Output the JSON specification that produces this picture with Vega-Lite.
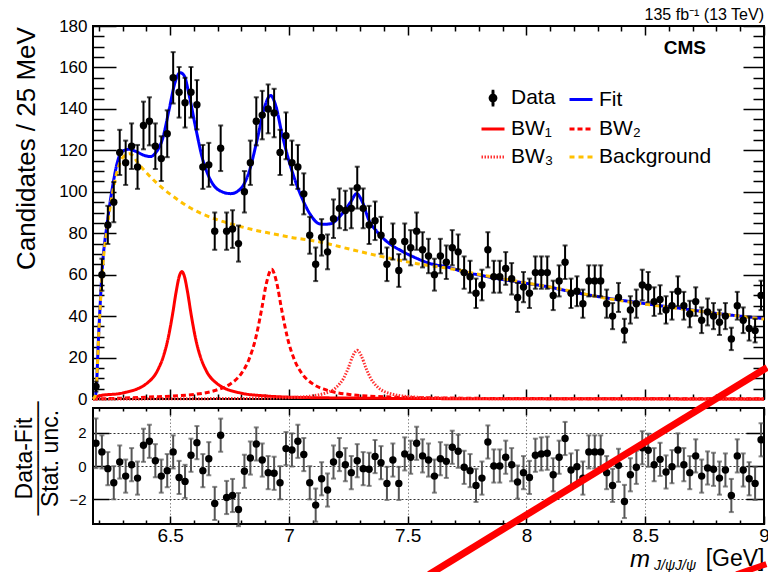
{
"$schema": "https://vega.github.io/schema/vega-lite/v6.json",
"padding": {"left": 11, "top": 6, "right": 0, "bottom": 0},
"background": "white",
"spacing": 9,
"bounds": "flush",
"config": {
  "font": "Liberation Sans",
  "view": {"stroke": "black", "strokeWidth": 2},
  "axis": {"domain": false, "grid": false, "tickColor": "black", "tickWidth": 1.5, "labelColor": "black", "titleColor": "black", "labelFont": "Liberation Sans", "titleFont": "Liberation Sans", "titleFontWeight": "normal", "labelOverlap": false, "labelFlush": false},
  "title": {"font": "Liberation Sans", "color": "black"},
  "legend": {"labelFont": "Liberation Sans", "labelColor": "black"}
},
"datasets": {
  "bins": [
{"m":6.1875,"n":6,"e":2.4,"p":1.37,"pe":1.5},
{"m":6.2125,"n":60,"e":7.7,"p":0.85,"pe":1},
{"m":6.2375,"n":84,"e":9.2,"p":-0.16,"pe":1},
{"m":6.2625,"n":95,"e":9.7,"p":-1.01,"pe":1},
{"m":6.2875,"n":119,"e":10.9,"p":0.24,"pe":1},
{"m":6.3125,"n":114,"e":10.7,"p":-0.61,"pe":1},
{"m":6.3375,"n":122,"e":11.0,"p":0.08,"pe":1},
{"m":6.3625,"n":112,"e":10.6,"p":-0.73,"pe":1},
{"m":6.3875,"n":132,"e":11.5,"p":1.25,"pe":1},
{"m":6.4125,"n":134,"e":11.6,"p":1.49,"pe":1},
{"m":6.4375,"n":122,"e":11.0,"p":0.32,"pe":1},
{"m":6.4625,"n":116,"e":10.8,"p":-0.61,"pe":1},
{"m":6.4875,"n":128,"e":11.3,"p":-0.28,"pe":1},
{"m":6.5125,"n":155,"e":12.4,"p":0.85,"pe":1},
{"m":6.5375,"n":148,"e":12.2,"p":-0.69,"pe":1},
{"m":6.5625,"n":143,"e":12.0,"p":-0.93,"pe":1},
{"m":6.5875,"n":148,"e":12.2,"p":0.65,"pe":1},
{"m":6.6125,"n":142,"e":11.9,"p":1.41,"pe":1},
{"m":6.6375,"n":112,"e":10.6,"p":-0.28,"pe":1},
{"m":6.6625,"n":113,"e":10.6,"p":0.44,"pe":1},
{"m":6.6875,"n":81,"e":9.0,"p":-2.26,"pe":1},
{"m":6.7125,"n":121,"e":11.0,"p":1.86,"pe":1},
{"m":6.7375,"n":81,"e":9.0,"p":-1.90,"pe":1},
{"m":6.7625,"n":82,"e":9.1,"p":-1.78,"pe":1},
{"m":6.7875,"n":75,"e":8.7,"p":-2.63,"pe":1},
{"m":6.8125,"n":100,"e":10.0,"p":-0.32,"pe":1},
{"m":6.8375,"n":114,"e":10.7,"p":0.48,"pe":1},
{"m":6.8625,"n":134,"e":11.6,"p":1.33,"pe":1},
{"m":6.8875,"n":137,"e":11.7,"p":0.36,"pe":1},
{"m":6.9125,"n":140,"e":11.8,"p":-0.40,"pe":1},
{"m":6.9375,"n":138,"e":11.7,"p":-0.44,"pe":1},
{"m":6.9625,"n":119,"e":10.9,"p":-1.01,"pe":1},
{"m":6.9875,"n":127,"e":11.3,"p":1.05,"pe":1},
{"m":7.0125,"n":114,"e":10.7,"p":0.97,"pe":1},
{"m":7.0375,"n":112,"e":10.6,"p":1.49,"pe":1},
{"m":7.0625,"n":99,"e":9.9,"p":0.69,"pe":1},
{"m":7.0875,"n":79,"e":8.9,"p":-1.01,"pe":1},
{"m":7.1125,"n":65,"e":8.1,"p":-2.36,"pe":1},
{"m":7.1375,"n":78,"e":8.8,"p":-0.77,"pe":1},
{"m":7.1625,"n":71,"e":8.4,"p":-1.45,"pe":1},
{"m":7.1875,"n":87,"e":9.3,"p":0.24,"pe":1},
{"m":7.2125,"n":92,"e":9.6,"p":0.69,"pe":1},
{"m":7.2375,"n":91,"e":9.5,"p":0.08,"pe":1},
{"m":7.2625,"n":92,"e":9.6,"p":-0.40,"pe":1},
{"m":7.2875,"n":102,"e":10.1,"p":0.32,"pe":1},
{"m":7.3125,"n":92,"e":9.6,"p":-0.16,"pe":1},
{"m":7.3375,"n":84,"e":9.2,"p":-0.20,"pe":1},
{"m":7.3625,"n":86,"e":9.3,"p":0.57,"pe":1},
{"m":7.3875,"n":79,"e":8.9,"p":0.20,"pe":1},
{"m":7.4125,"n":65,"e":8.1,"p":-1.05,"pe":1},
{"m":7.4375,"n":76,"e":8.7,"p":0.36,"pe":1},
{"m":7.4625,"n":62,"e":7.9,"p":-1.05,"pe":1},
{"m":7.4875,"n":76,"e":8.7,"p":0.73,"pe":1},
{"m":7.5125,"n":73,"e":8.5,"p":0.53,"pe":1},
{"m":7.5375,"n":81,"e":9.0,"p":1.37,"pe":1},
{"m":7.5625,"n":72,"e":8.5,"p":0.61,"pe":1},
{"m":7.5875,"n":69,"e":8.3,"p":0.36,"pe":1},
{"m":7.6125,"n":60,"e":7.7,"p":-0.61,"pe":1},
{"m":7.6375,"n":69,"e":8.3,"p":0.44,"pe":1},
{"m":7.6625,"n":66,"e":8.1,"p":0.28,"pe":1},
{"m":7.6875,"n":73,"e":8.5,"p":1.13,"pe":1},
{"m":7.7125,"n":71,"e":8.4,"p":0.89,"pe":1},
{"m":7.7375,"n":61,"e":7.8,"p":-0.08,"pe":1},
{"m":7.7625,"n":59,"e":7.7,"p":-0.28,"pe":1},
{"m":7.7875,"n":51,"e":7.1,"p":-1.17,"pe":1},
{"m":7.8125,"n":55,"e":7.4,"p":-0.73,"pe":1},
{"m":7.8375,"n":72,"e":8.5,"p":1.45,"pe":1},
{"m":7.8625,"n":59,"e":7.7,"p":0.0,"pe":1},
{"m":7.8875,"n":59,"e":7.7,"p":0.0,"pe":1},
{"m":7.9125,"n":63,"e":7.9,"p":0.53,"pe":1},
{"m":7.9375,"n":58,"e":7.6,"p":0.08,"pe":1},
{"m":7.9625,"n":49,"e":7.0,"p":-0.97,"pe":1},
{"m":7.9875,"n":54,"e":7.3,"p":-0.40,"pe":1},
{"m":8.0125,"n":51,"e":7.1,"p":-0.69,"pe":1},
{"m":8.0375,"n":61,"e":7.8,"p":0.65,"pe":1},
{"m":8.0625,"n":61,"e":7.8,"p":0.73,"pe":1},
{"m":8.0875,"n":61,"e":7.8,"p":0.77,"pe":1},
{"m":8.1125,"n":50,"e":7.1,"p":-0.53,"pe":1},
{"m":8.1375,"n":57,"e":7.5,"p":0.53,"pe":1},
{"m":8.1625,"n":66,"e":8.1,"p":1.66,"pe":1},
{"m":8.1875,"n":51,"e":7.1,"p":-0.24,"pe":1},
{"m":8.2125,"n":52,"e":7.2,"p":-0.04,"pe":1},
{"m":8.2375,"n":46,"e":6.8,"p":-0.73,"pe":1},
{"m":8.2625,"n":57,"e":7.5,"p":0.85,"pe":1},
{"m":8.2875,"n":57,"e":7.5,"p":0.85,"pe":1},
{"m":8.3125,"n":57,"e":7.5,"p":0.85,"pe":1},
{"m":8.3375,"n":46,"e":6.8,"p":-0.40,"pe":1},
{"m":8.3625,"n":40,"e":6.3,"p":-1.17,"pe":1},
{"m":8.3875,"n":49,"e":7.0,"p":0.04,"pe":1},
{"m":8.4125,"n":33,"e":5.7,"p":-2.14,"pe":1},
{"m":8.4375,"n":43,"e":6.6,"p":-0.53,"pe":1},
{"m":8.4625,"n":46,"e":6.8,"p":-0.08,"pe":1},
{"m":8.4875,"n":55,"e":7.4,"p":1.1,"pe":1},
{"m":8.5125,"n":54,"e":7.3,"p":0.95,"pe":1},
{"m":8.5375,"n":47,"e":6.9,"p":0.08,"pe":1},
{"m":8.5625,"n":48,"e":6.9,"p":0.40,"pe":1},
{"m":8.5875,"n":43,"e":6.6,"p":-0.36,"pe":1},
{"m":8.6125,"n":45,"e":6.7,"p":-0.04,"pe":1},
{"m":8.6375,"n":52,"e":7.2,"p":0.97,"pe":1},
{"m":8.6625,"n":45,"e":6.7,"p":0.08,"pe":1},
{"m":8.6875,"n":41,"e":6.4,"p":-0.40,"pe":1},
{"m":8.7125,"n":47,"e":6.9,"p":0.61,"pe":1},
{"m":8.7375,"n":38,"e":6.2,"p":-0.61,"pe":1},
{"m":8.7625,"n":42,"e":6.5,"p":-0.12,"pe":1},
{"m":8.7875,"n":40,"e":6.3,"p":-0.20,"pe":1},
{"m":8.8125,"n":37,"e":6.1,"p":-0.73,"pe":1},
{"m":8.8375,"n":40,"e":6.3,"p":-0.24,"pe":1},
{"m":8.8625,"n":29,"e":5.4,"p":-1.78,"pe":1},
{"m":8.8875,"n":45,"e":6.7,"p":0.61,"pe":1},
{"m":8.9125,"n":38,"e":6.2,"p":-0.24,"pe":1},
{"m":8.9375,"n":34,"e":5.8,"p":-0.77,"pe":1},
{"m":8.9625,"n":33,"e":5.7,"p":-1.05,"pe":1},
{"m":8.9875,"n":50,"e":7.1,"p":1.58,"pe":1}
  ],
  "curves": [
{"m":6.175,"v":0,"s":"Fit"},{"m":6.186,"v":2,"s":"Fit"},{"m":6.2,"v":34,"s":"Fit"},{"m":6.214,"v":63,"s":"Fit"},{"m":6.235,"v":85,"s":"Fit"},{"m":6.256,"v":101.5,"s":"Fit"},{"m":6.277,"v":114,"s":"Fit"},{"m":6.298,"v":119.5,"s":"Fit"},{"m":6.327,"v":120.5,"s":"Fit"},{"m":6.355,"v":119.5,"s":"Fit"},{"m":6.39,"v":117.6,"s":"Fit"},{"m":6.418,"v":117,"s":"Fit"},{"m":6.44,"v":119,"s":"Fit"},{"m":6.468,"v":125.6,"s":"Fit"},{"m":6.496,"v":140,"s":"Fit"},{"m":6.521,"v":153,"s":"Fit"},{"m":6.541,"v":157.5,"s":"Fit"},{"m":6.559,"v":156,"s":"Fit"},{"m":6.58,"v":146.5,"s":"Fit"},{"m":6.608,"v":130.5,"s":"Fit"},{"m":6.636,"v":116,"s":"Fit"},{"m":6.664,"v":107,"s":"Fit"},{"m":6.706,"v":100.7,"s":"Fit"},{"m":6.755,"v":99.1,"s":"Fit"},{"m":6.797,"v":101.5,"s":"Fit"},{"m":6.832,"v":109.6,"s":"Fit"},{"m":6.867,"v":125.6,"s":"Fit"},{"m":6.895,"v":140,"s":"Fit"},{"m":6.923,"v":146.5,"s":"Fit"},{"m":6.944,"v":141.7,"s":"Fit"},{"m":6.972,"v":127.2,"s":"Fit"},{"m":7.014,"v":109.6,"s":"Fit"},{"m":7.056,"v":96.7,"s":"Fit"},{"m":7.092,"v":88.7,"s":"Fit"},{"m":7.127,"v":84.6,"s":"Fit"},{"m":7.15,"v":84.3,"s":"Fit"},{"m":7.176,"v":84.6,"s":"Fit"},{"m":7.218,"v":88.6,"s":"Fit"},{"m":7.26,"v":95.1,"s":"Fit"},{"m":7.285,"v":99.1,"s":"Fit"},{"m":7.309,"v":95.1,"s":"Fit"},{"m":7.337,"v":86.2,"s":"Fit"},{"m":7.372,"v":80.6,"s":"Fit"},{"m":7.414,"v":75.8,"s":"Fit"},{"m":7.47,"v":71.7,"s":"Fit"},{"m":7.526,"v":68.5,"s":"Fit"},{"m":7.596,"v":65.3,"s":"Fit"},{"m":7.667,"v":63.7,"s":"Fit"},{"m":7.737,"v":61.3,"s":"Fit"},{"m":7.807,"v":59.7,"s":"Fit"},{"m":7.877,"v":58.1,"s":"Fit"},{"m":7.947,"v":56.8,"s":"Fit"},{"m":8.017,"v":55.5,"s":"Fit"},{"m":8.073,"v":54.5,"s":"Fit"},{"m":8.2,"v":51.5,"s":"Fit"},{"m":8.356,"v":48.4,"s":"Fit"},{"m":8.5,"v":46,"s":"Fit"},{"m":8.637,"v":43.9,"s":"Fit"},{"m":8.8,"v":41.3,"s":"Fit"},{"m":9.0,"v":38.8,"s":"Fit"},
{"m":6.175,"v":0,"s":"BW₁"},{"m":6.2,"v":1.5,"s":"BW₁"},{"m":6.3,"v":2.9,"s":"BW₁"},{"m":6.4,"v":7.4,"s":"BW₁"},{"m":6.45,"v":14.5,"s":"BW₁"},{"m":6.47,"v":20.1,"s":"BW₁"},{"m":6.49,"v":28.6,"s":"BW₁"},{"m":6.51,"v":40.9,"s":"BW₁"},{"m":6.525,"v":51.7,"s":"BW₁"},{"m":6.539,"v":59.5,"s":"BW₁"},{"m":6.549,"v":61.5,"s":"BW₁"},{"m":6.559,"v":59.5,"s":"BW₁"},{"m":6.573,"v":51.7,"s":"BW₁"},{"m":6.588,"v":40.9,"s":"BW₁"},{"m":6.608,"v":28.6,"s":"BW₁"},{"m":6.628,"v":20.1,"s":"BW₁"},{"m":6.648,"v":14.5,"s":"BW₁"},{"m":6.7,"v":7.2,"s":"BW₁"},{"m":6.8,"v":2.8,"s":"BW₁"},{"m":6.9,"v":1.5,"s":"BW₁"},{"m":7.0,"v":0.9,"s":"BW₁"},{"m":7.3,"v":0.4,"s":"BW₁"},{"m":7.6,"v":0.2,"s":"BW₁"},{"m":8.0,"v":0.1,"s":"BW₁"},{"m":9.0,"v":0.05,"s":"BW₁"},
{"m":6.175,"v":0,"s":"BW₂"},{"m":6.4,"v":0.88,"s":"BW₂"},{"m":6.6,"v":2.2,"s":"BW₂"},{"m":6.7,"v":4.5,"s":"BW₂"},{"m":6.75,"v":7.0,"s":"BW₂"},{"m":6.8,"v":12.4,"s":"BW₂"},{"m":6.83,"v":18.6,"s":"BW₂"},{"m":6.86,"v":29.4,"s":"BW₂"},{"m":6.885,"v":43.3,"s":"BW₂"},{"m":6.905,"v":55.8,"s":"BW₂"},{"m":6.927,"v":62.6,"s":"BW₂"},{"m":6.949,"v":55.8,"s":"BW₂"},{"m":6.969,"v":43.3,"s":"BW₂"},{"m":6.994,"v":29.4,"s":"BW₂"},{"m":7.024,"v":18.6,"s":"BW₂"},{"m":7.054,"v":12.4,"s":"BW₂"},{"m":7.104,"v":7.0,"s":"BW₂"},{"m":7.154,"v":4.5,"s":"BW₂"},{"m":7.254,"v":2.2,"s":"BW₂"},{"m":7.454,"v":0.88,"s":"BW₂"},{"m":7.7,"v":0.41,"s":"BW₂"},{"m":8.0,"v":0.21,"s":"BW₂"},{"m":8.5,"v":0.1,"s":"BW₂"},{"m":9.0,"v":0.06,"s":"BW₂"},
{"m":6.175,"v":0,"s":"BW₃"},{"m":6.9,"v":0.37,"s":"BW₃"},{"m":7.05,"v":0.96,"s":"BW₃"},{"m":7.15,"v":2.7,"s":"BW₃"},{"m":7.2,"v":5.7,"s":"BW₃"},{"m":7.23,"v":10,"s":"BW₃"},{"m":7.25,"v":15,"s":"BW₃"},{"m":7.27,"v":21,"s":"BW₃"},{"m":7.287,"v":23.5,"s":"BW₃"},{"m":7.304,"v":21,"s":"BW₃"},{"m":7.324,"v":15,"s":"BW₃"},{"m":7.344,"v":10,"s":"BW₃"},{"m":7.374,"v":5.7,"s":"BW₃"},{"m":7.424,"v":2.7,"s":"BW₃"},{"m":7.524,"v":0.96,"s":"BW₃"},{"m":7.674,"v":0.37,"s":"BW₃"},{"m":8.0,"v":0.11,"s":"BW₃"},{"m":9.0,"v":0.02,"s":"BW₃"},
{"m":6.175,"v":0,"s":"Background"},{"m":6.186,"v":2,"s":"Background"},{"m":6.2,"v":33,"s":"Background"},{"m":6.214,"v":61,"s":"Background"},{"m":6.235,"v":83,"s":"Background"},{"m":6.256,"v":98.5,"s":"Background"},{"m":6.277,"v":110,"s":"Background"},{"m":6.3,"v":116.5,"s":"Background"},{"m":6.33,"v":118.4,"s":"Background"},{"m":6.37,"v":113,"s":"Background"},{"m":6.41,"v":108,"s":"Background"},{"m":6.45,"v":103.5,"s":"Background"},{"m":6.51,"v":98,"s":"Background"},{"m":6.58,"v":92.5,"s":"Background"},{"m":6.65,"v":88.6,"s":"Background"},{"m":6.72,"v":85.7,"s":"Background"},{"m":6.79,"v":83.4,"s":"Background"},{"m":6.86,"v":81.4,"s":"Background"},{"m":6.93,"v":79.8,"s":"Background"},{"m":7.0,"v":78.2,"s":"Background"},{"m":7.13,"v":75.8,"s":"Background"},{"m":7.26,"v":72.2,"s":"Background"},{"m":7.4,"v":68.5,"s":"Background"},{"m":7.54,"v":65.3,"s":"Background"},{"m":7.68,"v":62.9,"s":"Background"},{"m":7.82,"v":59.7,"s":"Background"},{"m":7.96,"v":56.8,"s":"Background"},{"m":8.1,"v":54,"s":"Background"},{"m":8.356,"v":48.2,"s":"Background"},{"m":8.637,"v":43.7,"s":"Background"},{"m":9.0,"v":38.6,"s":"Background"}
  ]
},
"vconcat": [
  {
    "width": 671, "height": 373,
    "title": {"text": "135 fb⁻¹ (13 TeV)", "anchor": "end", "frame": "group", "fontSize": 16, "fontWeight": "normal", "offset": -6},
    "resolve": {"axis": {"x": "independent", "y": "independent"}},
    "layer": [
      {
        "data": {"name": "curves"},
        "mark": {"type": "line", "strokeWidth": 3, "interpolate": "monotone"},
        "encoding": {
          "x": {"field": "m", "type": "quantitative", "scale": {"domain": [6.175, 9.0], "nice": false, "zero": false},
                "axis": {"orient": "bottom", "values": [6.2,6.3,6.4,6.5,6.6,6.7,6.8,6.9,7,7.1,7.2,7.3,7.4,7.5,7.6,7.7,7.8,7.9,8,8.1,8.2,8.3,8.4,8.5,8.6,8.7,8.8,8.9,9],
                         "tickSize": {"condition": {"test": "abs(datum.value*2-round(datum.value*2))<0.01", "value": -10}, "value": -5},
                         "labels": false, "title": null}},
          "y": {"field": "v", "type": "quantitative", "scale": {"domain": [0, 180], "nice": false},
                "axis": {"orient": "left", "values": [0,5,10,15,20,25,30,35,40,45,50,55,60,65,70,75,80,85,90,95,100,105,110,115,120,125,130,135,140,145,150,155,160,165,170,175,180],
                         "tickSize": {"condition": {"test": "datum.value % 20 === 0", "value": -23}, "value": -11},
                         "labelExpr": "datum.value % 20 === 0 ? datum.label : ''",
                         "labelFontSize": 17, "labelPadding": 29,
                         "title": "Candidates / 25 MeV", "titleFontSize": 26, "titleX": -67, "titleY": 122, "titleBaseline": "middle", "titleAlign": "center", "titleAngle": -90}},
          "color": {"field": "s", "type": "nominal",
                    "scale": {"domain": ["Data","BW₁","BW₃","Fit","BW₂","Background"], "range": ["black","#ff0000","#ff3030","#0000ff","#ff0000","#ffc000"]},
                    "legend": {"title": null, "orient": "none", "legendX": 387, "legendY": 59, "columns": 2, "labelFontSize": 21, "symbolSize": 529, "symbolType": "stroke", "symbolStrokeWidth": 3, "rowPadding": 5, "columnPadding": 7, "labelOffset": 5,
                               "encode": {"symbols": {"update": {"shape": {"signal": "datum.value === 'Data' ? 'M-0.25,0A0.25,0.25,0,1,0,0.25,0A0.25,0.25,0,1,0,-0.25,0Z M0,-0.6L0,0.6 M-0.12,-0.6L0.12,-0.6 M-0.12,0.6L0.12,0.6' : 'stroke'"}, "fill": {"signal": "datum.value === 'Data' ? 'black' : 'transparent'"}}}}}},
          "strokeDash": {"field": "s", "type": "nominal",
                    "scale": {"domain": ["Data","BW₁","BW₃","Fit","BW₂","Background"], "range": [[1,0],[1,0],[1.5,1.5],[1,0],[5,3],[5,4]]},
                    "legend": {"title": null, "orient": "none", "legendX": 387, "legendY": 59, "columns": 2, "labelFontSize": 21, "symbolSize": 529, "symbolType": "stroke", "symbolStrokeWidth": 3, "rowPadding": 5, "columnPadding": 7, "labelOffset": 5}}
        }
      },
      {
        "data": {"name": "bins"},
        "mark": {"type": "errorbar", "ticks": {"size": 5}, "thickness": 2, "color": "black"},
        "encoding": {
          "x": {"field": "m", "type": "quantitative", "axis": null},
          "y": {"field": "n", "type": "quantitative", "axis": null},
          "yError": {"field": "e"}
        }
      },
      {
        "data": {"name": "bins"},
        "mark": {"type": "point", "filled": true, "size": 55, "opacity": 1},
        "encoding": {
          "x": {"field": "m", "type": "quantitative",
                "axis": {"orient": "top", "values": [6.2,6.3,6.4,6.5,6.6,6.7,6.8,6.9,7,7.1,7.2,7.3,7.4,7.5,7.6,7.7,7.8,7.9,8,8.1,8.2,8.3,8.4,8.5,8.6,8.7,8.8,8.9,9],
                         "tickSize": {"condition": {"test": "abs(datum.value*2-round(datum.value*2))<0.01", "value": -9}, "value": -5},
                         "labels": false, "title": null}},
          "y": {"field": "n", "type": "quantitative",
                "axis": {"orient": "right", "values": [0,5,10,15,20,25,30,35,40,45,50,55,60,65,70,75,80,85,90,95,100,105,110,115,120,125,130,135,140,145,150,155,160,165,170,175,180],
                         "tickSize": {"condition": {"test": "datum.value % 20 === 0", "value": -21}, "value": -11},
                         "labels": false, "title": null}},
          "color": {"datum": "Data"}
        }
      },
      {
        "data": {"values": [{}]},
        "mark": {"type": "text", "text": "CMS", "font": "Liberation Sans", "fontSize": 19, "fontWeight": "bold", "align": "right", "baseline": "middle", "color": "black"},
        "encoding": {
          "x": {"datum": 8.756, "type": "quantitative", "axis": null},
          "y": {"datum": 169.4, "type": "quantitative", "axis": null}
        }
      }
    ]
  },
  {
    "width": 671, "height": 116,
    "resolve": {"axis": {"x": "independent", "y": "independent"}},
    "layer": [
      {
        "data": {"name": "bins"},
        "mark": {"type": "errorbar", "ticks": {"size": 5}, "thickness": 2, "color": "#555555"},
        "encoding": {
          "x": {"field": "m", "type": "quantitative", "scale": {"domain": [6.175, 9.0], "nice": false, "zero": false}, "axis": null},
          "y": {"field": "p", "type": "quantitative", "scale": {"domain": [-3.5, 3.5], "nice": false}, "axis": null},
          "yError": {"field": "pe"}
        }
      },
      {
        "data": {"name": "bins"},
        "mark": {"type": "point", "filled": true, "size": 55, "opacity": 1, "color": "black"},
        "encoding": {
          "x": {"field": "m", "type": "quantitative",
                "axis": {"orient": "bottom", "values": [6.2,6.3,6.4,6.5,6.6,6.7,6.8,6.9,7,7.1,7.2,7.3,7.4,7.5,7.6,7.7,7.8,7.9,8,8.1,8.2,8.3,8.4,8.5,8.6,8.7,8.8,8.9,9],
                         "tickSize": {"condition": {"test": "abs(datum.value*2-round(datum.value*2))<0.01", "value": -8}, "value": -4},
                         "labelExpr": "abs(datum.value*2-round(datum.value*2))<0.01 ? format(datum.value, '~g') : ''",
                         "labelFontSize": 19, "labelPadding": 10,
                         "grid": true, "gridColor": "#888888", "gridDash": [1.5, 2], "gridWidth": 1,
                         "gridOpacity": {"condition": {"test": "abs(datum.value*2-round(datum.value*2))<0.01 && datum.value < 8.99", "value": 1}, "value": 0},
                         "title": "[GeV]", "titleFontSize": 23, "titleAnchor": "end", "titlePadding": -2}},
          "y": {"field": "p", "type": "quantitative",
                "axis": {"orient": "left", "values": [-2, 0, 2], "tickSize": -16, "labelFontSize": 15, "labelPadding": 23,
                         "grid": true, "gridColor": "#333333", "gridDash": [2, 2], "gridWidth": 1,
                         "title": ["Data-Fit", "───────", "Stat. unc."], "titleFontSize": 23, "titleLineHeight": 13, "titleX": -69, "titleY": 50, "titleBaseline": "middle", "titleAlign": "center", "titleAngle": -90}}
        }
      },
      {
        "data": {"values": [{}]},
        "mark": {"type": "text", "text": "m", "font": "Liberation Sans", "fontSize": 24, "fontStyle": "italic", "align": "right", "baseline": "alphabetic", "color": "black"},
        "encoding": {
          "x": {"datum": 8.52, "type": "quantitative",
                "axis": {"orient": "top", "values": [6.2,6.3,6.4,6.5,6.6,6.7,6.8,6.9,7,7.1,7.2,7.3,7.4,7.5,7.6,7.7,7.8,7.9,8,8.1,8.2,8.3,8.4,8.5,8.6,8.7,8.8,8.9,9],
                         "tickSize": {"condition": {"test": "abs(datum.value*2-round(datum.value*2))<0.01", "value": -7}, "value": -3},
                         "labels": false, "title": null}},
          "y": {"datum": -6.12, "type": "quantitative",
                "axis": {"orient": "right", "values": [-2, 0, 2], "tickSize": -18, "labels": false, "title": null}}
        }
      },
      {
        "data": {"values": [{}]},
        "mark": {"type": "text", "text": "J/ψJ/ψ", "font": "Liberation Sans", "fontSize": 14, "fontStyle": "italic", "align": "left", "baseline": "alphabetic", "color": "black"},
        "encoding": {
          "x": {"datum": 8.537, "type": "quantitative", "axis": null},
          "y": {"datum": -6.25, "type": "quantitative", "axis": null}
        }
      },
      {
        "data": {"values": [{}]},
        "mark": {"type": "rule", "color": "#ff0000", "strokeWidth": 7, "clip": false},
        "encoding": {
          "x": {"datum": 7.59, "type": "quantitative", "axis": null},
          "y": {"datum": -6.545, "type": "quantitative", "axis": null},
          "x2": {"datum": 9.013},
          "y2": {"datum": 5.94}
        }
      },
      {
        "data": {"values": [{}]},
        "mark": {"type": "rule", "color": "#ff0000", "strokeWidth": 6, "clip": false},
        "encoding": {
          "x": {"datum": 8.884, "type": "quantitative", "axis": null},
          "y": {"datum": -6.545, "type": "quantitative", "axis": null},
          "x2": {"datum": 9.01},
          "y2": {"datum": -5.92}
        }
      }
    ]
  }
]
}
